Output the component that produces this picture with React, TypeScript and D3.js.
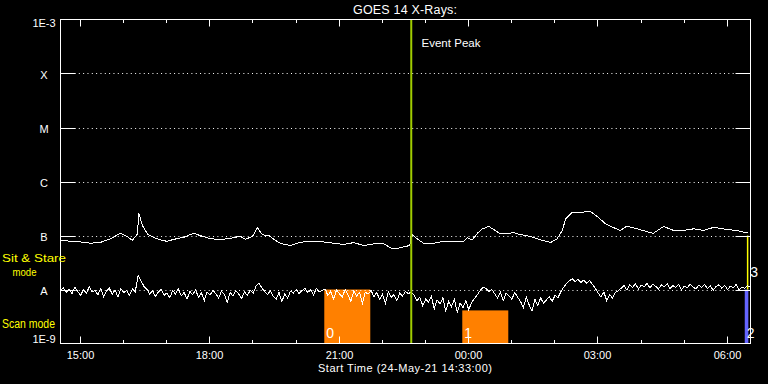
import React from 'react';
import * as d3 from 'd3';

// ---------- data ----------
const titleText = 'GOES 14 X-Rays:';
const startLabel = 'Start Time (24-May-21 14:33:00)';
const eventLabel = 'Event Peak';
const levelLabels = ['A', 'B', 'C', 'M', 'X'];
const levelFlux = [1e-8, 1e-7, 1e-6, 1e-5, 1e-4];
const edgeLabels = ['1E-9', '1E-3'];
const startTime = Date.UTC(2021, 4, 24, 14, 33);
const endTime = Date.UTC(2021, 4, 25, 6, 33);
const eventPeakMinute = 488;

// long channel (1-8 A): minutes since start, flux W/m^2
const longMinutes = [0, 14, 28, 42, 56, 70, 83, 93, 100, 107, 109, 114, 121, 130, 139, 148, 158, 172, 185, 195, 209, 223, 237, 250, 257, 267, 274, 281, 290, 299, 308, 320, 334, 348, 366, 380, 394, 408, 422, 436, 450, 459, 468, 480, 486, 488, 496, 505, 519, 533, 547, 561, 566, 573, 580, 587, 596, 603, 612, 621, 631, 640, 654, 668, 682, 691, 698, 703, 712, 726, 737, 749, 758, 770, 779, 788, 802, 819, 825, 839, 853, 867, 881, 895, 909, 928, 941, 951, 957];
const longFlux = [8.3e-8, 7.8e-8, 7.6e-8, 7.2e-8, 7.5e-8, 8.7e-8, 1.10e-7, 9.6e-8, 8.1e-8, 1.07e-7, 2.6e-7, 1.53e-7, 1.07e-7, 9.1e-8, 8.3e-8, 7.8e-8, 8.5e-8, 9.3e-8, 1.10e-7, 9.9e-8, 8.7e-8, 8.4e-8, 8.9e-8, 9.7e-8, 8.5e-8, 9.6e-8, 1.39e-7, 1.03e-7, 1.0e-7, 8.1e-8, 7.0e-8, 6.5e-8, 7.5e-8, 7.8e-8, 7.6e-8, 7.2e-8, 6.8e-8, 7.4e-8, 6.5e-8, 7.0e-8, 7.0e-8, 5.9e-8, 5.7e-8, 6.3e-8, 6.5e-8, 1.07e-7, 8.7e-8, 7.2e-8, 7.2e-8, 7.8e-8, 7.8e-8, 7.8e-8, 9.1e-8, 8.3e-8, 1.10e-7, 1.33e-7, 1.47e-7, 1.28e-7, 1.07e-7, 1.10e-7, 1.12e-7, 1.04e-7, 9.6e-8, 8.3e-8, 7.4e-8, 8.7e-8, 1.24e-7, 2.04e-7, 2.70e-7, 2.70e-7, 2.82e-7, 2.13e-7, 1.65e-7, 1.39e-7, 1.24e-7, 1.49e-7, 1.33e-7, 1.15e-7, 1.10e-7, 1.47e-7, 1.24e-7, 1.24e-7, 1.33e-7, 1.24e-7, 1.42e-7, 1.29e-7, 1.24e-7, 1.15e-7, 1.15e-7];

// short channel (0.5-4 A): one value every 4 minutes, in units of 1e-8 W/m^2
const shortStepMinutes = 4;
const shortFluxA = [
  0.95, 1.08, 0.88, 1.02, 0.84, 1.10, 0.92, 0.78, 1.00, 0.86, 1.12, 0.90, 0.97, 0.80, 1.05, 0.74, 0.93, 1.06, 0.82, 0.98, 0.72, 1.04, 0.88, 0.95, 0.78, 1.02, 0.90,
  1.85, 1.45, 1.15, 1.02,
  0.82, 0.96, 0.74, 0.90, 1.00, 0.78, 0.86, 0.70, 0.95, 0.83, 1.02, 0.76, 0.88, 0.66, 0.92, 0.80, 0.98, 0.72, 0.87, 0.62, 0.90, 0.79, 0.96, 0.84, 0.70, 0.93, 0.80, 0.58, 0.88, 0.76, 0.95, 0.82, 0.68, 0.90, 0.78, 0.97, 0.85,
  1.15, 1.30, 1.08,
  0.92, 0.80, 0.96, 0.74, 0.66, 0.88, 0.60, 0.82, 0.70, 0.93, 0.86, 1.00, 0.84, 0.95, 1.05, 0.88, 0.98, 0.80, 1.04, 0.90, 0.96,
  1.02, 0.78, 0.92, 0.66, 0.98, 0.84, 0.72, 1.00, 0.80, 0.60, 0.94, 0.76, 0.88, 0.56, 0.90, 0.82, 0.96,
  0.74, 0.88, 0.66, 0.82, 0.56, 0.90, 0.72, 0.80, 0.62, 0.86, 0.76, 0.92, 0.84,
  0.90,
  0.78, 0.62, 0.72, 0.50, 0.66, 0.58, 0.74, 0.44, 0.64, 0.54, 0.70, 0.40, 0.60, 0.48, 0.66, 0.38, 0.56, 0.46, 0.62, 0.42, 0.58, 0.68,
  0.80, 0.96, 1.10, 1.04, 0.92, 1.00,
  0.84, 0.70, 0.90, 0.62, 0.86, 0.76, 0.66, 0.88, 0.72,
  0.60, 0.46, 0.72, 0.52, 0.40, 0.66, 0.50, 0.70, 0.56, 0.64, 0.74, 0.60, 0.78, 0.70,
  0.90, 1.10, 1.30,
  1.45, 1.58, 1.40, 1.55, 1.35, 1.50, 1.30, 1.46, 1.25,
  1.05, 0.86, 0.72, 0.90, 0.62, 0.80, 0.70, 0.88, 0.95,
  1.05, 1.18, 0.98, 1.22, 1.10, 1.28, 1.02, 1.20, 1.12, 1.30, 1.08, 1.25, 1.15, 1.02, 1.22, 1.12, 1.28, 1.05, 1.18, 1.10,
  1.24, 0.98, 1.16, 1.08, 1.26, 1.12, 1.02, 1.20, 1.10, 1.25, 1.04, 1.18, 0.96, 1.14, 1.22, 1.06, 1.20, 1.00, 1.15, 1.08,
  1.24, 0.98, 1.12, 1.05, 1.18,
  1.10,
];

// observation blocks
const obsLabels = ['0', '1', '2', '3'];
const obsStartMin = [367, 559, 952, 956];
const obsEndMin = [431, 623, 957, 956];
const obsTopFlux = [1e-8, 4.1e-9, 1e-8, 1e-7];
const obsBottomFlux = [1e-9, 1e-9, 1e-9, 1e-8];

const modeLabels = ['Sit & Stare', 'mode', 'Scan mode'];

// ---------- styles ----------
const obsColors = ['#ff8000', '#ff8000', '#6464ff', '#ffff00'];
const FONT = '"Liberation Sans", Arial, sans-serif';

export default function App() {
  const W = 768, H = 384;
  const L = 60.5, R = 750.5, T = 19.5, B = 343.5;
  const x = d3.scaleUtc().domain([startTime, endTime]).range([L, R]);
  const y = d3.scaleLog().domain([1e-9, 1e-3]).range([B, T]);
  const tm = (m: number) => x(startTime + m * 60000);

  const longData = longMinutes.map((m, i) => [tm(m), y(longFlux[i])] as [number, number]);
  const shortData = shortFluxA.map((v, i) => [tm(i * shortStepMinutes), y(v * 1e-8)] as [number, number]);
  const line = d3.line();

  const hourTicks = x.ticks(d3.utcHour.every(1) as any);
  const fmt = d3.utcFormat('%H:%M');

  const textStyle = { fontFamily: FONT, fill: '#fff' } as const;
  const yellowStyle = { fontFamily: FONT, fill: '#ffff00' } as const;

  return (
    <svg width={W} height={H} style={{ position: 'absolute', left: 0, top: 0, background: '#000' }}>
      <rect x={0} y={0} width={W} height={H} fill="#000" />
      <text x={405} y={14} textAnchor="middle" fontSize={12.5} textLength={104} lengthAdjust="spacing" style={textStyle}>{titleText}</text>

      {/* observation blocks */}
      {obsLabels.map((lab, i) => {
        const x0 = tm(obsStartMin[i]);
        const x1 = tm(obsEndMin[i]);
        const y0 = y(obsTopFlux[i]);
        const y1 = y(obsBottomFlux[i]);
        if (obsEndMin[i] === obsStartMin[i]) {
          return (
            <g key={lab}>
              <line x1={x0} x2={x0} y1={y0} y2={y1} stroke={obsColors[i]} strokeWidth={1.5} />
              <text x={x0 + 2.5} y={277} fontSize={14} style={textStyle}>{lab}</text>
            </g>
          );
        }
        return (
          <g key={lab}>
            <rect x={x0} y={y0} width={x1 - x0} height={y1 - y0} fill={obsColors[i]} />
            <text x={x0 + 2} y={338} fontSize={14} style={textStyle}>{lab}</text>
          </g>
        );
      })}

      {/* level grid */}
      {levelFlux.map((f, i) => {
        const yy = Math.round(y(f)) + 0.5;
        return (
          <g key={levelLabels[i]}>
            <line x1={L} x2={R} y1={yy} y2={yy} stroke="#fff" strokeDasharray="1 3.33" strokeDashoffset={-1} />
            <line x1={L} x2={L + 15} y1={yy} y2={yy} stroke="#fff" />
            <line x1={R - 15} x2={R} y1={yy} y2={yy} stroke="#fff" />
            <text x={44} y={y(f) + 5} textAnchor="middle" fontSize={11} style={textStyle}>{levelLabels[i]}</text>
          </g>
        );
      })}
      <text x={44} y={343} textAnchor="middle" fontSize={11} style={textStyle}>{edgeLabels[0]}</text>
      <text x={44} y={27} textAnchor="middle" fontSize={11} style={textStyle}>{edgeLabels[1]}</text>

      {/* data */}
      <path d={line(shortData) || ''} fill="none" stroke="#fff" strokeWidth={1} shapeRendering="crispEdges" />
      <path d={line(longData) || ''} fill="none" stroke="#fff" strokeWidth={1} shapeRendering="crispEdges" />

      {/* event peak */}
      <line x1={tm(eventPeakMinute)} x2={tm(eventPeakMinute)} y1={T} y2={B} stroke="#a0cc00" strokeWidth={2} />
      <text x={421.5} y={46.5} fontSize={11.5} textLength={59} lengthAdjust="spacing" style={textStyle}>{eventLabel}</text>

      {/* frame */}
      <rect x={L} y={T} width={R - L} height={B - T} fill="none" stroke="#fff" strokeWidth={1} />
      {hourTicks.map((t) => {
        const xx = Math.round(x(t)) + 0.5;
        const major = t.getUTCHours() % 3 === 0;
        const len = major ? 7 : 3.5;
        return (
          <g key={+t}>
            <line x1={xx} x2={xx} y1={T} y2={T + len} stroke="#fff" />
            <line x1={xx} x2={xx} y1={B} y2={B - len} stroke="#fff" />
            {major && (
              <text x={xx} y={359} textAnchor="middle" fontSize={11} style={textStyle}>{fmt(t)}</text>
            )}
          </g>
        );
      })}
      <text x={405} y={372} textAnchor="middle" fontSize={11} textLength={174} lengthAdjust="spacing" style={textStyle}>{startLabel}</text>

      {/* mode labels */}
      <text x={2} y={262} fontSize={11.5} textLength={64} lengthAdjust="spacingAndGlyphs" style={yellowStyle}>{modeLabels[0]}</text>
      <text x={12.5} y={275.5} fontSize={11} textLength={24} lengthAdjust="spacingAndGlyphs" style={yellowStyle}>{modeLabels[1]}</text>
      <text x={2} y={328} fontSize={12} textLength={53} lengthAdjust="spacingAndGlyphs" style={yellowStyle}>{modeLabels[2]}</text>
    </svg>
  );
}
